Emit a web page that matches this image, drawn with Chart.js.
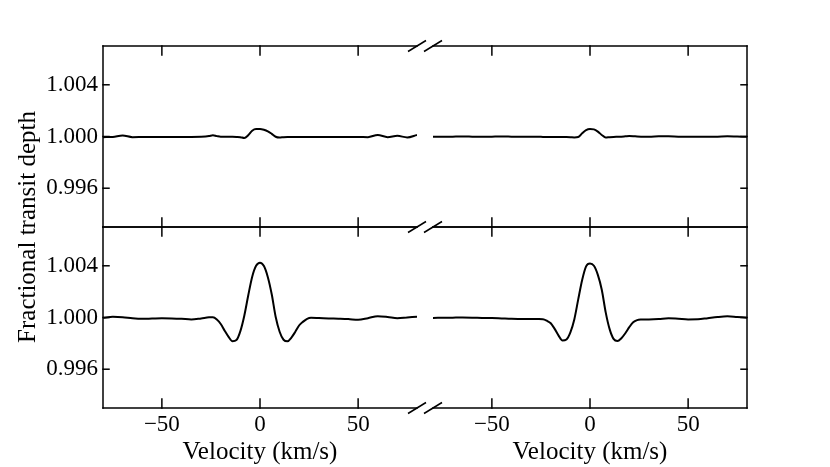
<!DOCTYPE html>
<html>
<head>
<meta charset="utf-8">
<script src="https://cdn.jsdelivr.net/npm/chart.js@4.4.0/dist/chart.umd.min.js"></script>
<style>
  html, body { margin: 0; padding: 0; background: #fff; }
</style>
</head>
<body>
<canvas id="chart" width="830" height="467"></canvas>
<script>
// Velocity grid (km/s), shared by all four panels
const velocity = [-80, -75, -70, -65, -60, -55, -50, -45, -40, -35, -30,
    -26, -24, -22, -20, -18, -16, -14, -12, -10, -8, -6, -4, -2, 0,
    2, 4, 6, 8, 10, 12, 14, 16, 18, 20, 22, 24, 26,
    30, 35, 40, 45, 50, 55, 60, 65, 70, 75, 80];

// Upper row, left and right of the axis break
const topLeft = [0.99995, 0.99997, 1.00008, 0.99995, 0.99996, 0.99997, 0.99997, 0.99997, 0.99997, 0.99997, 0.99998,
    1.00003, 1.00010, 1.00003, 0.99998, 0.99998, 0.99998, 0.99998, 0.99997, 0.99995, 0.99988, 1.00010, 1.00045, 1.00058, 1.00058,
    1.00052, 1.00040, 1.00020, 0.99998, 0.99992, 0.99995, 0.99996, 0.99996, 0.99996, 0.99996, 0.99996, 0.99996, 0.99996,
    0.99996, 0.99996, 0.99996, 0.99996, 0.99996, 0.99995, 1.00012, 0.99995, 1.00005, 0.99993, 1.00012];
const topRight = [0.99998, 0.99998, 0.99999, 1.00000, 0.99999, 0.99998, 0.99999, 1.00000, 0.99999, 0.99998, 0.99998,
    0.99998, 0.99997, 0.99997, 0.99997, 0.99997, 0.99997, 0.99996, 0.99996, 0.99995, 0.99993, 0.99996, 1.00025, 1.00050, 1.00058,
    1.00055, 1.00038, 1.00012, 0.99992, 0.99995, 0.99997, 0.99998, 0.99999, 1.00001, 1.00003, 1.00002, 1.00000, 0.99999,
    0.99998, 1.00001, 1.00002, 0.99999, 0.99998, 0.99999, 0.99998, 0.99999, 1.00002, 1.00000, 0.99998];

// Lower row
const bottomLeft = [0.99998, 1.00005, 1.00002, 0.99994, 0.99990, 0.99992, 0.99994, 0.99993, 0.99990, 0.99985, 0.99993,
    1.00001, 1.00002, 0.99985, 0.99950, 0.99898, 0.99850, 0.99817, 0.99826, 0.99895, 1.00014, 1.00170, 1.00314, 1.00400, 1.00424,
    1.00398, 1.00312, 1.00178, 1.00004, 0.99890, 0.99828, 0.99816, 0.99845, 0.99890, 0.99940, 0.99968, 0.99990, 0.99998,
    0.99996, 0.99993, 0.99991, 0.99988, 0.99982, 0.99995, 1.00010, 1.00004, 0.99994, 1.00000, 1.00006];
const bottomRight = [0.99997, 0.99998, 0.99999, 1.00000, 0.99999, 0.99997, 0.99996, 0.99993, 0.99990, 0.99989, 0.99988,
    0.99988, 0.99987, 0.99975, 0.99955, 0.99912, 0.99860, 0.99822, 0.99830, 0.99885, 0.99985, 1.00140, 1.00290, 1.00395, 1.00417,
    1.00400, 1.00330, 1.00215, 1.00040, 0.99910, 0.99835, 0.99818, 0.99840, 0.99878, 0.99925, 0.99963, 0.99980, 0.99984,
    0.99985, 0.99988, 0.99994, 0.99990, 0.99985, 0.99986, 0.99995, 1.00004, 1.00009, 1.00004, 0.99999];

const xTicks = [-50, 0, 50];
const yTicks = [0.996, 1.000, 1.004];
const xRange = [-80, 80];
const yRange = [0.993, 1.007];

const FONT = "'Liberation Serif', 'Times New Roman', serif";

function points(values) {
    return velocity.map((v, i) => ({ x: v, y: values[i] }));
}

function curve(values, xId, yId) {
    return {
        data: points(values),
        xAxisID: xId,
        yAxisID: yId,
        borderColor: '#000',
        borderWidth: 2,
        pointRadius: 0,
        cubicInterpolationMode: 'monotone',
        fill: false
    };
}

function velocityAxis(weight, stackWeight) {
    return {
        type: 'linear',
        position: 'bottom',
        stack: 'h',
        stackWeight: stackWeight,
        weight: weight,
        min: xRange[0],
        max: xRange[1],
        grid: { display: false, drawTicks: false },
        border: { display: false },
        afterBuildTicks: s => { s.ticks = xTicks.map(v => ({ value: v })); },
        afterFit: s => { s.height = 59; },
        ticks: {
            color: '#000',
            padding: 3,
            autoSkip: false,
            maxRotation: 0,
            minRotation: 0,
            font: { family: FONT, size: 23 },
            callback: v => v < 0 ? '\u2212' + Math.abs(v) : String(v)
        },
        title: {
            display: true,
            text: 'Velocity (km/s)',
            color: '#000',
            font: { family: FONT, size: 25 },
            padding: { top: 0, bottom: 0 }
        }
    };
}

function depthAxis(weight) {
    return {
        type: 'linear',
        position: 'left',
        stack: 'v',
        stackWeight: 1,
        weight: weight,
        min: yRange[0],
        max: yRange[1],
        grid: { display: false, drawTicks: false },
        border: { display: false },
        afterBuildTicks: s => { s.ticks = yTicks.map(v => ({ value: v })); },
        afterFit: s => { s.width = 60; },
        ticks: {
            color: '#000',
            padding: 5,
            autoSkip: false,
            font: { family: FONT, size: 23 },
            callback: v => v.toFixed(3)
        }
    };
}

// Spines, inward tick marks and the // marks of the broken x axis
const frame = {
    id: 'frame',
    afterDraw(chart) {
        const { ctx, scales } = chart;
        const { xL, xR, yTop, yBot } = scales;
        const line = (x1, y1, x2, y2) => {
            ctx.beginPath();
            ctx.moveTo(x1, y1);
            ctx.lineTo(x2, y2);
            ctx.stroke();
        };
        ctx.save();
        ctx.strokeStyle = '#000';
        ctx.lineWidth = 1.5;
        ctx.lineCap = 'square';

        [[xL, 'left'], [xR, 'right']].forEach(([xs, side]) => {
            [yTop, yBot].forEach(ys => {
                const sx = side === 'left' ? xs.left : xs.right;
                line(xs.left, ys.top, xs.right, ys.top);
                line(xs.left, ys.bottom, xs.right, ys.bottom);
                line(sx, ys.top, sx, ys.bottom);

                xTicks.forEach(v => {
                    const px = xs.getPixelForValue(v);
                    line(px, ys.top, px, ys.top + 9);
                    line(px, ys.bottom, px, ys.bottom - 9);
                });
                const dir = side === 'left' ? 1 : -1;
                yTicks.forEach(v => {
                    const py = ys.getPixelForValue(v);
                    line(sx, py, sx + dir * 6, py);
                });
            });
        });

        ctx.lineCap = 'butt';
        [yTop.top, yTop.bottom, yBot.bottom].forEach(y => {
            [xL.right, xR.left].forEach(x => line(x - 9, y + 5.5, x + 9, y - 5.5));
        });
        ctx.restore();
    }
};

new Chart(document.getElementById('chart'), {
    type: 'line',
    data: {
        datasets: [
            curve(topLeft, 'xL', 'yTop'),
            curve(topRight, 'xR', 'yTop'),
            curve(bottomLeft, 'xL', 'yBot'),
            curve(bottomRight, 'xR', 'yBot')
        ]
    },
    options: {
        responsive: false,
        animation: false,
        devicePixelRatio: 1,
        events: [],
        layout: { padding: { top: 46, right: 83, bottom: 0, left: 0 } },
        scales: {
            xL: velocityAxis(0, 314),
            xGap: {
                type: 'linear',
                position: 'bottom',
                stack: 'h',
                stackWeight: 16,
                weight: 1,
                min: 0,
                max: 1,
                grid: { display: false, drawTicks: false },
                border: { display: false },
                ticks: { display: false },
                afterFit: s => { s.height = 59; }
            },
            xR: velocityAxis(2, 314),
            yTop: depthAxis(1),
            yBot: depthAxis(0)
        },
        plugins: {
            legend: { display: false },
            tooltip: { enabled: false },
            title: {
                display: true,
                text: 'Fractional transit depth',
                position: 'left',
                fullSize: false,
                color: '#000',
                font: { family: FONT, size: 25, weight: 'normal' },
                padding: { top: 13, bottom: 0 }
            }
        }
    },
    plugins: [frame]
});
</script>
</body>
</html>
